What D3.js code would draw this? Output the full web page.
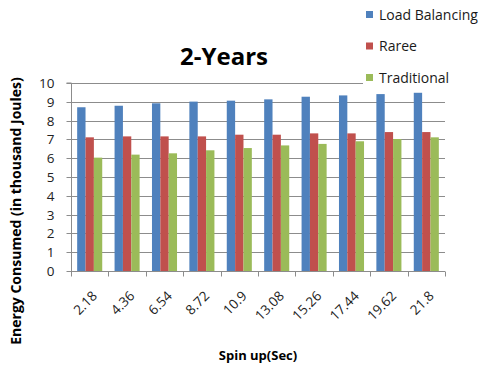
<!DOCTYPE html>
<html>
<head>
<meta charset="utf-8">
<script src="https://cdn.jsdelivr.net/npm/d3@7"></script>
<style>
  body { margin: 0; background: #fff; }
  svg { display: block; font-family: "Open Sans", "DejaVu Sans", sans-serif; }
</style>
</head>
<body>
<svg id="chart" width="482" height="366"></svg>
<script>
// Spin-up times (seconds)
const categories = ["2.18", "4.36", "6.54", "8.72", "10.9", "13.08", "15.26", "17.44", "19.62", "21.8"];
// Energy consumed, thousand joules
const loadBalancing = [8.71, 8.79, 8.92, 9.01, 9.06, 9.13, 9.27, 9.34, 9.41, 9.48];
const raree         = [7.11, 7.16, 7.16, 7.16, 7.25, 7.25, 7.32, 7.32, 7.39, 7.39];
const traditional   = [6.03, 6.19, 6.26, 6.42, 6.54, 6.68, 6.76, 6.90, 7.02, 7.11];
const seriesNames = ["Load Balancing", "Raree", "Traditional"];
const yTicks = [0, 1, 2, 3, 4, 5, 6, 7, 8, 9, 10];

const seriesValues = [loadBalancing, raree, traditional];
const colors = ["#4F81BD", "#C0504D", "#9BBB59"];

const svg = d3.select("#chart");
const plot = { left: 71, right: 445, top: 83, bottom: 271 };

const x = d3.scaleBand().domain(categories).range([plot.left, plot.right]).paddingInner(0.33).paddingOuter(0.165);
const xOuter = d3.scaleBand().domain(categories).range([plot.left, plot.right]);
const xSub = d3.scaleBand().domain(seriesNames).range([0, x.bandwidth()]);
const y = d3.scaleLinear().domain([0, 10]).range([plot.bottom, plot.top]);

// horizontal gridlines
svg.append("g").selectAll("line").data(yTicks.filter(d => d > 0)).join("line")
  .attr("x1", plot.left).attr("x2", plot.right)
  .attr("y1", d => Math.round(y(d)) + 0.5).attr("y2", d => Math.round(y(d)) + 0.5)
  .attr("stroke", "#8c8c8c").attr("stroke-width", 1);

// bars
const groups = svg.append("g").selectAll("g").data(categories).join("g")
  .attr("transform", c => `translate(${x(c)},0)`);
groups.selectAll("rect").data((c, i) => seriesNames.map((s, k) => ({ s, k, v: seriesValues[k][i] }))).join("rect")
  .attr("x", d => xSub(d.s))
  .attr("width", xSub.bandwidth())
  .attr("y", d => y(d.v))
  .attr("height", d => y(0) - y(d.v))
  .attr("fill", d => colors[d.k]);

// y axis
const yAxis = svg.append("g").attr("transform", `translate(${plot.left + 0.5},0)`)
  .call(d3.axisLeft(y).tickValues(yTicks).tickSize(5).tickPadding(12).tickFormat(d3.format("d")));
yAxis.select(".domain").attr("stroke", "#8c8c8c").attr("d", `M-5,${y(10)}H0V${y(0)}`);
yAxis.selectAll(".tick line").attr("stroke", "#8c8c8c");
yAxis.selectAll(".tick").attr("transform", d => `translate(0,${Math.round(y(d)) + 0.5})`);
yAxis.selectAll("text").attr("fill", "#222").style("font-size", "13.5px").style("font-family", "Open Sans, sans-serif");

// x axis with ticks at category boundaries
const xAxisG = svg.append("g").attr("transform", `translate(0,${Math.round(y(0)) + 0.5})`);
xAxisG.append("line").attr("x1", plot.left).attr("x2", plot.right).attr("stroke", "#8c8c8c");
const bounds = categories.map(c => xOuter(c)).concat([plot.right]);
xAxisG.selectAll("line.tk").data(bounds).join("line").attr("class", "tk")
  .attr("x1", d => Math.round(d) + 0.5).attr("x2", d => Math.round(d) + 0.5)
  .attr("y1", 0).attr("y2", 5).attr("stroke", "#8c8c8c");
xAxisG.selectAll("text").data(categories).join("text")
  .attr("transform", c => `translate(${xOuter(c) + xOuter.bandwidth() / 2 + 5},${22}) rotate(-45)`)
  .attr("text-anchor", "end")
  .attr("dy", "0.35em")
  .attr("fill", "#222")
  .style("font-size", "13.5px")
  .text(c => c);

// legend, drawn over the top of the plot area
const legend = svg.append("g");
legend.append("rect").attr("x", 363).attr("y", 0).attr("width", 119).attr("height", 90).attr("fill", "#fff");
const li = legend.selectAll("g").data(seriesNames).join("g")
  .attr("transform", (d, i) => `translate(366,${15 + i * 31.5})`);
li.append("rect").attr("x", 0).attr("y", -4).attr("width", 7).attr("height", 7)
  .attr("fill", (d, i) => colors[i]);
li.append("text").attr("x", 13).attr("y", 0).attr("dy", "0.35em")
  .attr("fill", "#1a1a1a").style("font-size", "14px").text(d => d);

// title
svg.append("text").attr("x", 224).attr("y", 65).attr("text-anchor", "middle")
  .style("font-size", "24px").style("font-weight", "bold").attr("fill", "#000").text("2-Years");

// axis titles
svg.append("text").attr("x", 258).attr("y", 360).attr("text-anchor", "middle")
  .style("font-size", "13px").style("font-weight", "bold").attr("fill", "#000").text("Spin up(Sec)");
svg.append("text").attr("transform", "translate(21,211) rotate(-90)").attr("text-anchor", "middle")
  .style("font-size", "14px").style("font-weight", "bold").attr("fill", "#000")
  .text("Energy  Consumed (in thousand Joules)");
</script>
</body>
</html>
